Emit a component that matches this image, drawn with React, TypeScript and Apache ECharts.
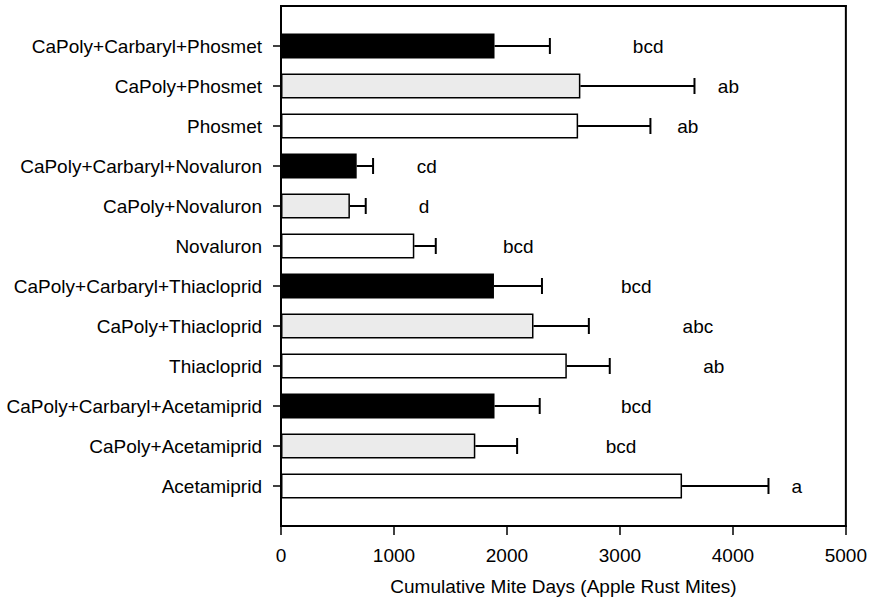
import React, { useEffect, useRef } from "react";
import * as echarts from "echarts";

const treatments = [
  "CaPoly+Carbaryl+Phosmet",
  "CaPoly+Phosmet",
  "Phosmet",
  "CaPoly+Carbaryl+Novaluron",
  "CaPoly+Novaluron",
  "Novaluron",
  "CaPoly+Carbaryl+Thiacloprid",
  "CaPoly+Thiacloprid",
  "Thiacloprid",
  "CaPoly+Carbaryl+Acetamiprid",
  "CaPoly+Acetamiprid",
  "Acetamiprid",
];
const means = [1890, 2650, 2630, 670, 610, 1180, 1885, 2235, 2530, 1890, 1720, 3550];
const errorEnds = [2380, 3660, 3270, 815, 750, 1370, 2310, 2725, 2910, 2290, 2090, 4315];
const letters = ["bcd", "ab", "ab", "cd", "d", "bcd", "bcd", "abc", "ab", "bcd", "bcd", "a"];
const letterX = [3250, 3960, 3600, 1290, 1265, 2100, 3145, 3690, 3830, 3145, 3010, 4565];
const xTicks = [0, 1000, 2000, 3000, 4000, 5000];

const FONT = "'Liberation Sans', Arial, Helvetica, sans-serif";

function fillFor(name: string): string {
  if (name.includes("Carbaryl")) return "#000000";
  if (name.startsWith("CaPoly")) return "#ebebeb";
  return "#ffffff";
}

export default function App() {
  const ref = useRef<HTMLDivElement>(null);
  useEffect(() => {
    if (!ref.current) return;
    const chart = echarts.init(ref.current, null, { renderer: "svg" });
    const cats = ["", ...treatments, ""];
    const barData: any[] = [null];
    treatments.forEach((t, i) => {
      barData.push({
        value: means[i],
        itemStyle: { color: fillFor(t), borderColor: "#000", borderWidth: 1.5 },
      });
    });
    barData.push(null);
    const errData = treatments.map((_, i) => [i + 1, means[i], errorEnds[i]]);
    const letterData = treatments.map((_, i) => [letterX[i], i + 1]);

    const axisLine = { show: true, lineStyle: { color: "#000", width: 2 } };

    chart.setOption({
      animation: false,
      backgroundColor: "#ffffff",
      grid: {
        left: 281,
        right: 24,
        top: 6,
        bottom: 75,
        show: true,
        borderColor: "#000",
        borderWidth: 2,
        containLabel: false,
      },
      xAxis: [
        {
          type: "value",
          min: xTicks[0],
          max: xTicks[xTicks.length - 1],
          interval: 1000,
          axisLine,
          axisTick: { show: true, length: 9, inside: false, lineStyle: { color: "#000", width: 1.5 } },
          axisLabel: {
            color: "#000",
            fontSize: 19,
            fontFamily: FONT,
            margin: 20,
            formatter: (v: number) => String(v),
          },
          splitLine: { show: false },
          name: "Cumulative Mite Days (Apple Rust Mites)",
          nameLocation: "middle",
          nameGap: 51,
          nameTextStyle: { color: "#000", fontSize: 19, fontFamily: FONT },
        },
        {
          type: "value",
          position: "top",
          min: xTicks[0],
          max: xTicks[xTicks.length - 1],
          interval: 1000,
          axisLine,
          axisTick: { show: false },
          axisLabel: { show: false },
          splitLine: { show: false },
        },
      ],
      yAxis: [
        {
          type: "category",
          data: cats,
          inverse: true,
          boundaryGap: false,
          axisLine,
          axisTick: {
            show: true,
            length: 8,
            inside: false,
            interval: (index: number) => index > 0 && index < cats.length - 1,
            lineStyle: { color: "#000", width: 1.5 },
          },
          axisLabel: {
            color: "#000",
            fontSize: 19,
            fontFamily: FONT,
            margin: 19,
            interval: 0,
          },
          splitLine: { show: false },
        },
        {
          type: "category",
          data: cats,
          inverse: true,
          boundaryGap: false,
          position: "right",
          axisLine,
          axisTick: { show: false },
          axisLabel: { show: false },
          splitLine: { show: false },
        },
      ],
      series: [
        {
          type: "bar",
          data: barData,
          barWidth: 25,
          z: 2,
        },
        {
          type: "custom",
          data: errData,
          encode: { x: [1, 2], y: 0 },
          z: 3,
          renderItem: (params: any, api: any) => {
            const cat = api.value(0);
            const p0 = api.coord([api.value(1), cat]);
            const p1 = api.coord([api.value(2), cat]);
            const half = 8;
            return {
              type: "group",
              children: [
                {
                  type: "line",
                  shape: { x1: p0[0], y1: p0[1], x2: p1[0], y2: p1[1] },
                  style: { stroke: "#000", lineWidth: 2 },
                },
                {
                  type: "line",
                  shape: { x1: p1[0], y1: p1[1] - half, x2: p1[0], y2: p1[1] + half },
                  style: { stroke: "#000", lineWidth: 2 },
                },
              ],
            };
          },
        },
        {
          type: "custom",
          data: letterData,
          encode: { x: 0, y: 1 },
          z: 4,
          renderItem: (params: any, api: any) => {
            const p = api.coord([api.value(0), api.value(1)]);
            return {
              type: "text",
              x: p[0],
              y: p[1],
              style: {
                text: letters[params.dataIndex],
                fill: "#000",
                font: `19px ${FONT}`,
                align: "center",
                verticalAlign: "middle",
              },
            };
          },
        },
      ],
    });
    return () => chart.dispose();
  }, []);
  return (
    <div
      ref={ref}
      style={{ position: "fixed", left: 0, top: 0, width: 870, height: 601 }}
    />
  );
}
